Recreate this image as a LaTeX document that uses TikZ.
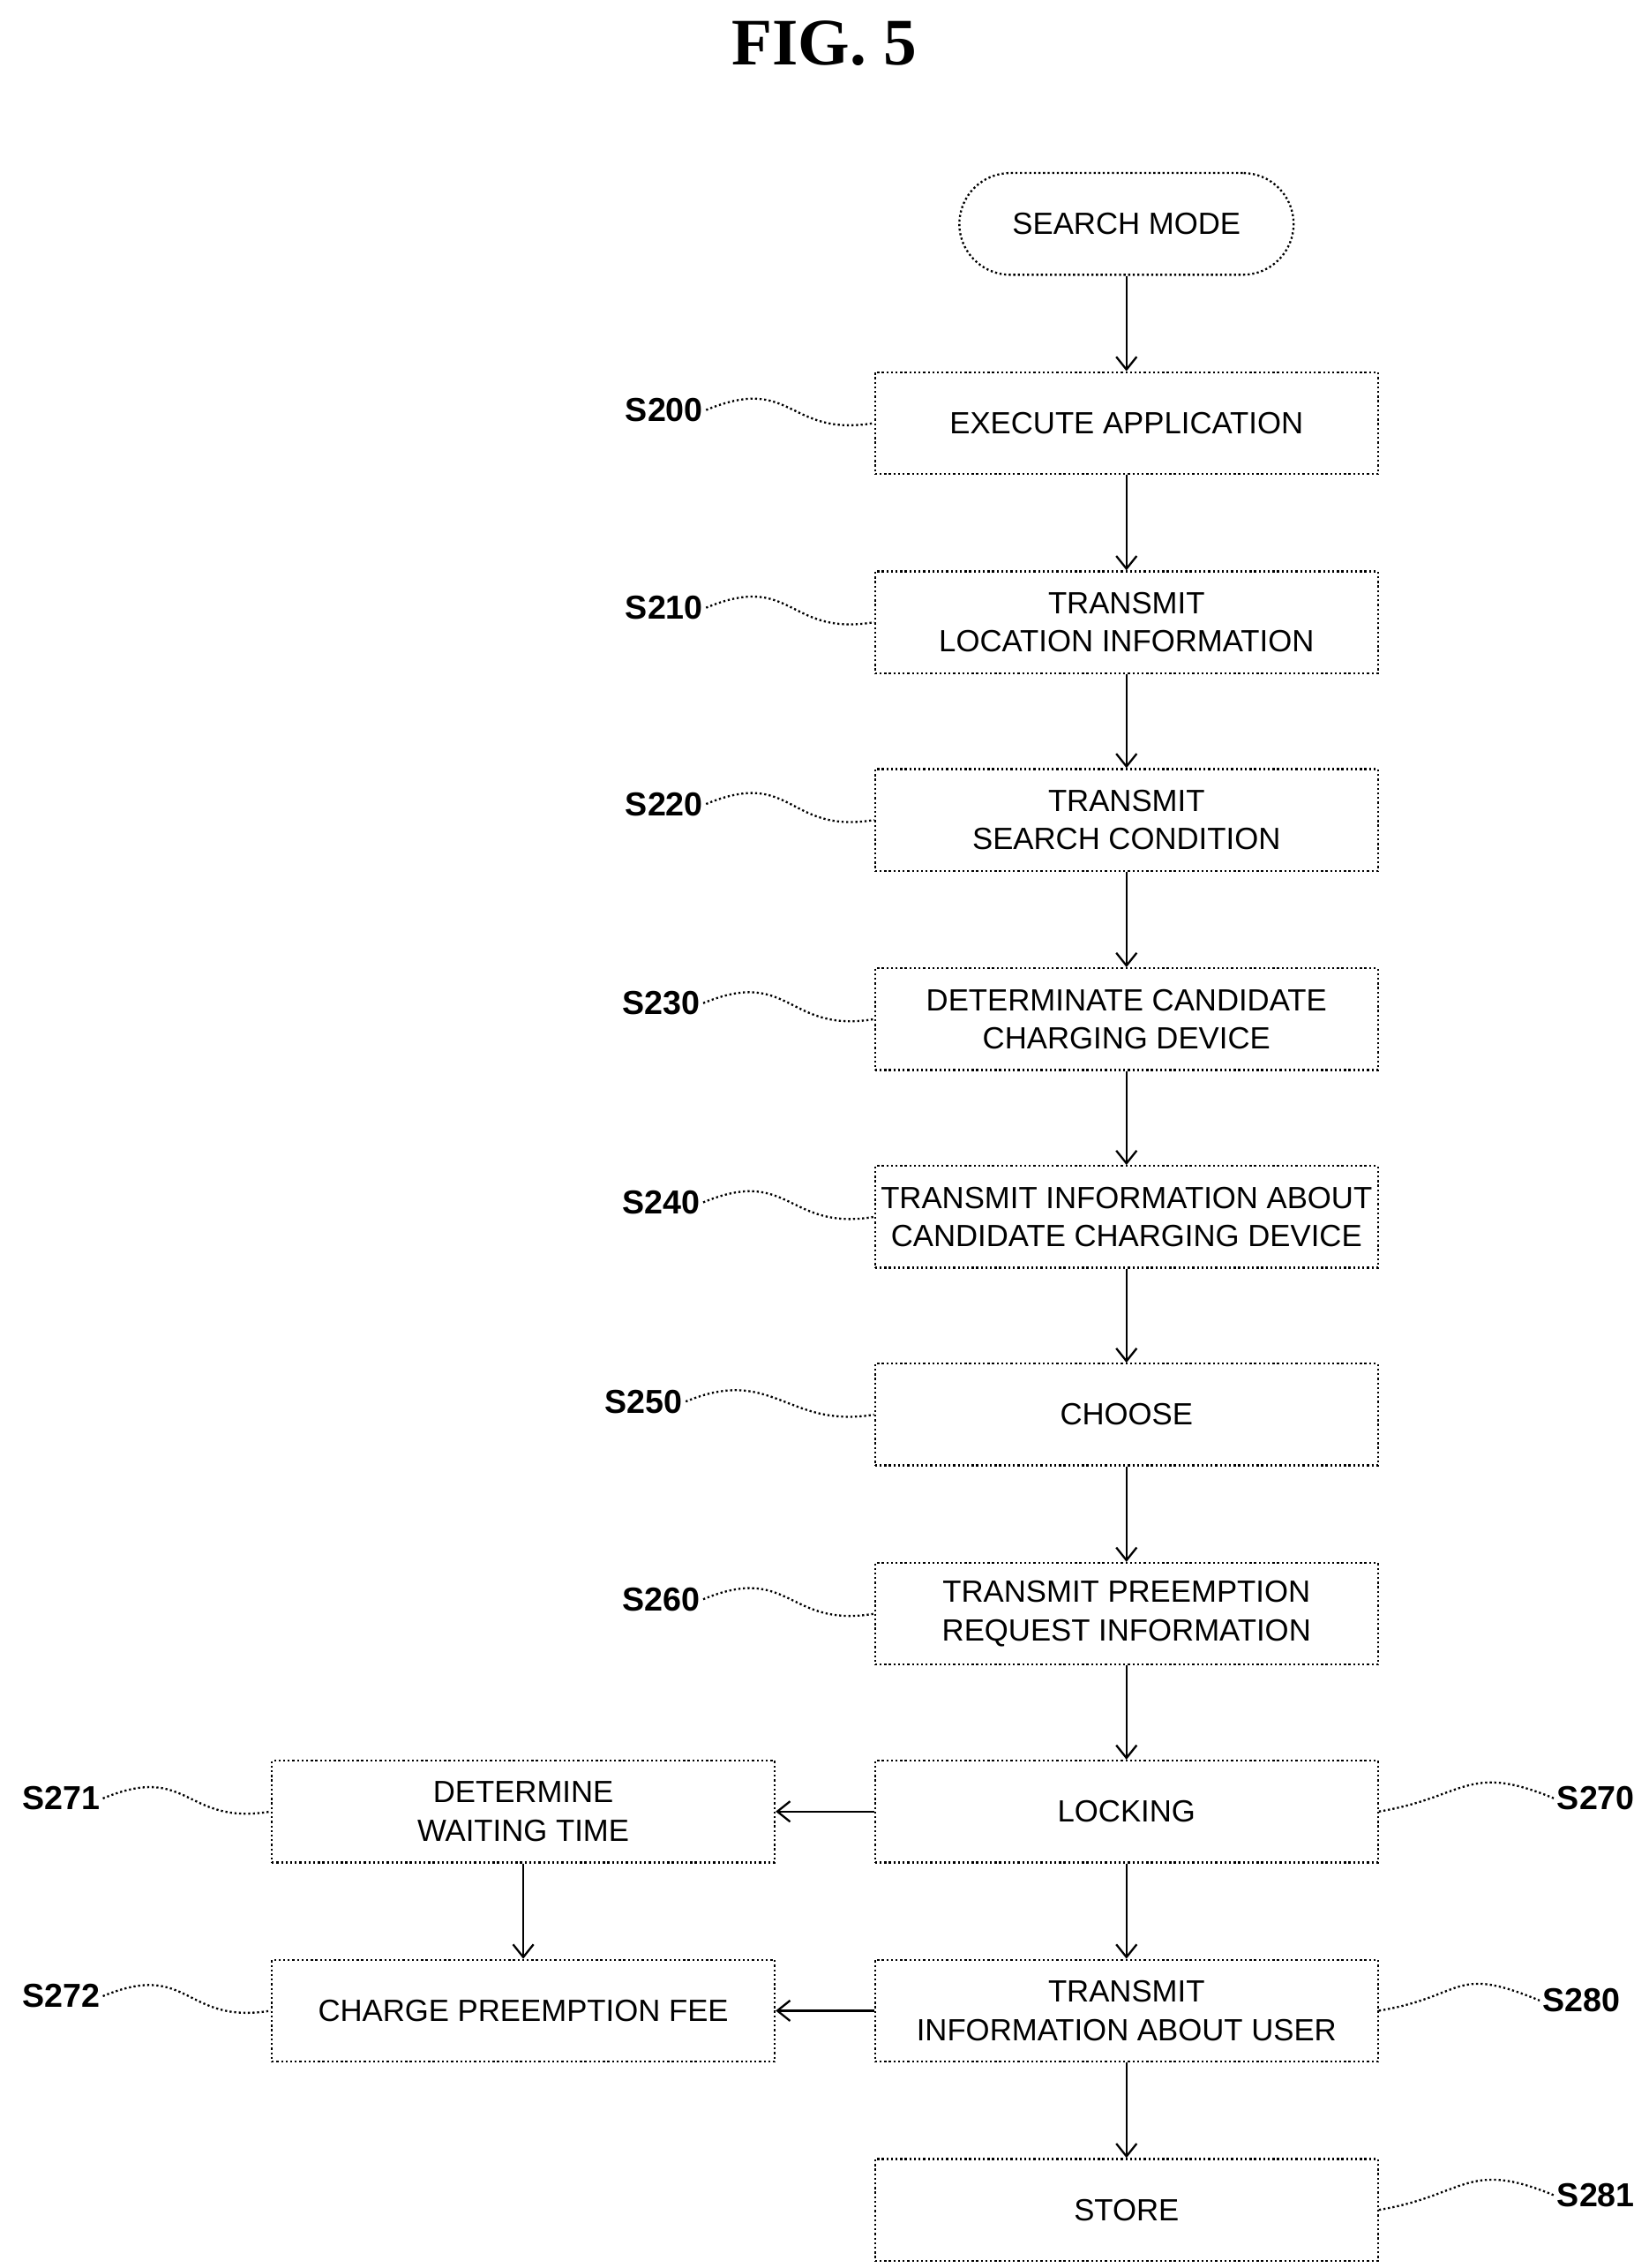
\documentclass[tikz,border=0pt]{standalone}
\usepackage{fontspec}
\setmainfont{Liberation Sans}
\usetikzlibrary{arrows.meta}
\begin{document}
\begin{tikzpicture}[x=0.02cm,y=-0.02cm,
 box/.style={draw,densely dotted,line width=0.8pt,minimum width=6.92cm,minimum height=1.4cm,align=center,font=\fontsize{12}{15}\selectfont,inner sep=1pt},
 lab/.style={font=\bfseries\fontsize{13}{15}\selectfont,inner sep=1pt},
 arr/.style={-{Straight Barb[length=5pt,width=8pt]},line width=0.8pt},
 wav/.style={densely dotted,line width=0.8pt}]
\useasboundingbox (0,0) rectangle (1134,1560);
\node[font=\bfseries\fontsize{26}{30}\selectfont,font=\fontspec{Liberation Serif}\bfseries\fontsize{26}{30}\selectfont] (title) at (567,30) {FIG. 5};
\node[draw,densely dotted,line width=0.8pt,rounded corners=0.7cm,minimum width=4.6cm,minimum height=1.4cm,font=\fontsize{12}{15}\selectfont] (s) at (775,154) {SEARCH MODE};
\node[box] (b200) at (775,291) {EXECUTE APPLICATION};
\node[box] (b210) at (775,428) {TRANSMIT\\LOCATION INFORMATION};
\node[box] (b220) at (775,564) {TRANSMIT\\SEARCH CONDITION};
\node[box] (b230) at (775,701) {DETERMINATE CANDIDATE\\CHARGING DEVICE};
\node[box] (b240) at (775,837) {TRANSMIT INFORMATION ABOUT\\CANDIDATE CHARGING DEVICE};
\node[box] (b250) at (775,973) {CHOOSE};
\node[box] (b260) at (775,1110) {TRANSMIT PREEMPTION\\REQUEST INFORMATION};
\node[box] (b270) at (775,1246) {LOCKING};
\node[box] (b280) at (775,1383) {TRANSMIT\\INFORMATION ABOUT USER};
\node[box] (b281) at (775,1520) {STORE};
\node[box] (b271) at (360,1246) {DETERMINE\\WAITING TIME};
\node[box] (b272) at (360,1383) {CHARGE PREEMPTION FEE};
\foreach \a/\b in {s/b200,b200/b210,b210/b220,b220/b230,b230/b240,b240/b250,b250/b260,b260/b270,b270/b280,b280/b281,b271/b272}
  \draw[arr] (\a) -- (\b);
\draw[arr] (b270) -- (b271);
\draw[arr] (b280) -- (b272);
\foreach \n/\y/\x in {200/282/457,210/418/457,220/553/457,230/690/455,240/827/455,250/964/443,260/1100/455}{
  \node[lab] (l\n) at (\x,\y) {S\n};
  \draw[wav] (l\n.east) .. controls +(1.2cm,0.5cm) and +(-1.2cm,-0.2cm) .. (b\n.west);
}
\node[lab] (l271) at (42,1237) {S271};
\draw[wav] (l271.east) .. controls +(1.2cm,0.5cm) and +(-1.2cm,-0.2cm) .. (b271.west);
\node[lab] (l272) at (42,1373) {S272};
\draw[wav] (l272.east) .. controls +(1.2cm,0.5cm) and +(-1.2cm,-0.2cm) .. (b272.west);
\node[lab] (l270) at (1098,1237) {S270};
\draw[wav] (b270.east) .. controls +(1.2cm,0.2cm) and +(-1.2cm,0.5cm) .. (l270.west);
\node[lab] (l280) at (1088,1376) {S280};
\draw[wav] (b280.east) .. controls +(1.2cm,0.2cm) and +(-1.2cm,0.5cm) .. (l280.west);
\node[lab] (l281) at (1098,1510) {S281};
\draw[wav] (b281.east) .. controls +(1.2cm,0.2cm) and +(-1.2cm,0.5cm) .. (l281.west);
\end{tikzpicture}
\end{document}
